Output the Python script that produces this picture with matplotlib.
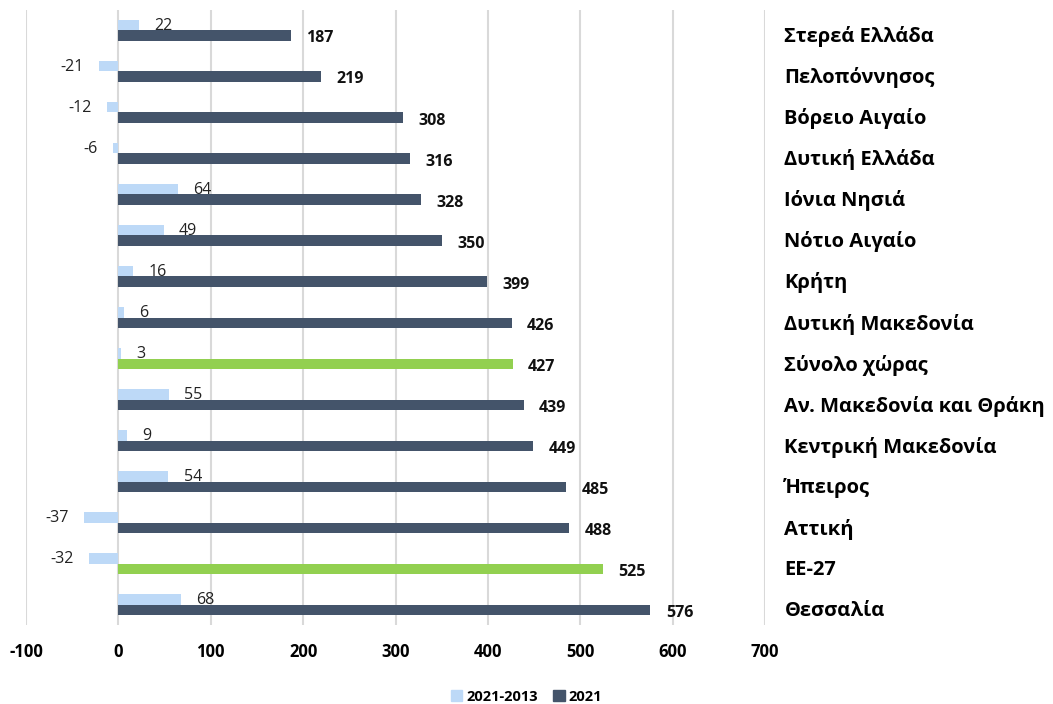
import matplotlib
matplotlib.use("Agg")
import matplotlib.pyplot as plt
import matplotlib.transforms as mtransforms
import numpy as np

regions = [
    "Στερεά Ελλάδα", "Πελοπόννησος", "Βόρειο Αιγαίο", "Δυτική Ελλάδα",
    "Ιόνια Νησιά", "Νότιο Αιγαίο", "Κρήτη", "Δυτική Μακεδονία",
    "Σύνολο χώρας", "Αν. Μακεδονία και Θράκη", "Κεντρική Μακεδονία",
    "Ήπειρος", "Αττική", "ΕΕ-27", "Θεσσαλία",
]
change_2013_2021 = [22, -21, -12, -6, 64, 49, 16, 6, 3, 55, 9, 54, -37, -32, 68]
values_2021 = [187, 219, 308, 316, 328, 350, 399, 426, 427, 439, 449, 485, 488, 525, 576]
highlight = ["Σύνολο χώρας", "ΕΕ-27"]
xticks = [-100, 0, 100, 200, 300, 400, 500, 600, 700]

plt.rcParams["font.family"] = ["Open Sans", "DejaVu Sans"]

LIGHT = "#BDD9F7"
DARK = "#44546A"
GREEN = "#92D050"

fig = plt.figure(figsize=(10.53, 7.04), dpi=100)
ax = fig.add_axes([0.0247, 0.112, 0.7018, 0.874])

y = np.arange(len(regions))
h = 0.26
dark_colors = [GREEN if r in highlight else DARK for r in regions]

ax.barh(y - h / 2, change_2013_2021, height=h, color=LIGHT, label="2021-2013", zorder=3)
ax.barh(y + h / 2, values_2021, height=h, color=dark_colors, label="2021", zorder=3)

for yi, v in zip(y, change_2013_2021):
    off = 11 if v >= 0 else -11
    ax.annotate(str(v), (v, yi - h / 2), xytext=(off, -0.5), textcoords="offset points",
                ha="left" if v >= 0 else "right", va="center", fontsize=11.5, color="#222222")
for yi, v in zip(y, values_2021):
    ax.annotate(str(v), (v, yi + h / 2), xytext=(11, -2), textcoords="offset points",
                ha="left", va="center", fontsize=11.5, fontweight="bold", color="#111111")

ax.set_xlim(-100, 700)
ax.set_ylim(len(regions) - 0.5, -0.5)
ax.set_xticks(xticks)
ax.set_xticklabels([str(t) for t in xticks], fontsize=12, fontweight="bold")
ax.tick_params(axis="x", length=0, pad=13)
ax.set_yticks(y)
ax.set_yticklabels(regions, fontsize=14.5, fontweight="bold")
ax.yaxis.tick_right()
ax.tick_params(axis="y", length=0, pad=14)
shift = mtransforms.ScaledTranslation(0, -4 / 100, fig.dpi_scale_trans)
for lab in ax.get_yticklabels():
    lab.set_transform(lab.get_transform() + shift)
ax.grid(axis="x", color="#D9D9D9", linewidth=1.5, zorder=0)
for s in ax.spines.values():
    s.set_visible(False)

handles, labels = ax.get_legend_handles_labels()
leg = fig.legend(handles, labels, loc="lower center", bbox_to_anchor=(0.5, -0.018), ncol=2,
                 frameon=False, prop={"weight": "bold", "size": 10.5},
                 handlelength=0.8, handleheight=0.8, columnspacing=1.0, handletextpad=0.3)
for lh, c in zip(leg.legend_handles, [LIGHT, DARK]):
    lh.set_color(c)

fig.savefig("out.png", dpi=100)
